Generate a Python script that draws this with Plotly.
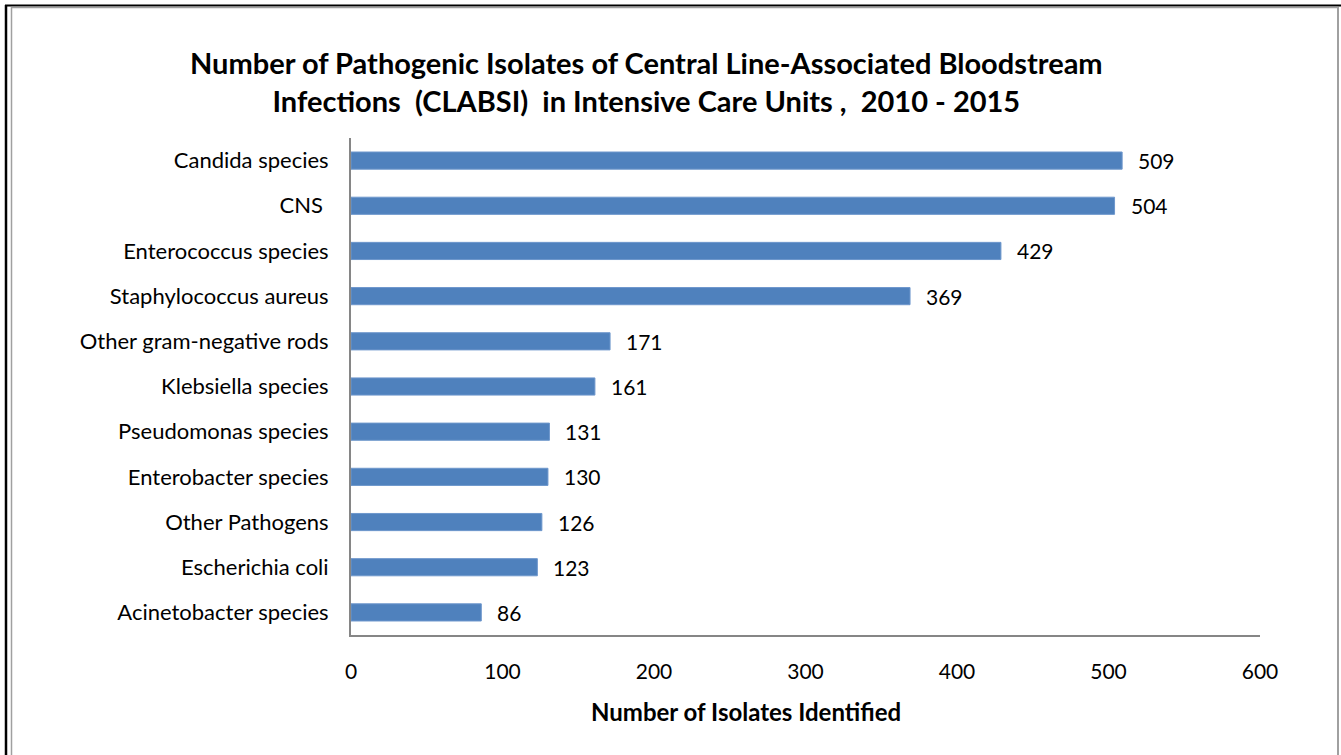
import plotly.graph_objects as go

categories = ["Candida species", "CNS ", "Enterococcus species", "Staphylococcus aureus",
              "Other gram-negative rods", "Klebsiella species", "Pseudomonas species",
              "Enterobacter species", "Other Pathogens", "Escherichia coli", "Acinetobacter species"]
values = [509, 504, 429, 369, 171, 161, 131, 130, 126, 123, 86]
x_ticks = [0, 100, 200, 300, 400, 500, 600]

W, H = 1341, 755
L, R, T, B = 351, 1260, 138, 635
FONT = "Lato"

def px(x):
    return (x - L) / (R - L)

def py(y):
    return (B - y) / (B - T)

fig = go.Figure(go.Bar(
    y=categories, x=values, orientation="h",
    marker=dict(color="#4F81BD", line=dict(color="#6E97CC", width=1)),
    width=0.38, hoverinfo="x+y",
))

annotations = []
for c, v in zip(categories, values):
    annotations.append(dict(x=v, y=c, xref="x", yref="y", text=str(v), showarrow=False,
                            xanchor="left", yanchor="middle", xshift=14,
                            font=dict(family=FONT, size=21, color="#000")))
annotations.append(dict(x=px(746), y=py(711), xref="paper", yref="paper",
                        text="<b>Number of Isolates Identified</b>", showarrow=False,
                        xanchor="center", yanchor="middle",
                        font=dict(family=FONT, size=24, color="#000")))
annotations.append(dict(x=px(646), y=py(81), xref="paper", yref="paper",
                        text="<b>Number of Pathogenic Isolates of Central Line-Associated Bloodstream<br>Infections  (CLABSI)  in Intensive Care Units ,  2010 - 2015</b>",
                        showarrow=False, xanchor="center", yanchor="middle", align="center",
                        font=dict(family=FONT, size=29, color="#000")))

shapes = [
    dict(type="line", xref="paper", yref="paper", x0=px(5), x1=px(1341), y0=py(5.5), y1=py(5.5),
         line=dict(color="#000", width=2)),
    dict(type="line", xref="paper", yref="paper", x0=px(6), x1=px(6), y0=py(5), y1=py(800),
         line=dict(color="#000", width=2.5)),
    dict(type="line", xref="paper", yref="paper", x0=px(11.5), x1=px(11.5), y0=py(7), y1=py(800),
         line=dict(color="#A0A0A0", width=1.5)),
    dict(type="line", xref="paper", yref="paper", x0=px(11.5), x1=px(1338), y0=py(7.5), y1=py(7.5),
         line=dict(color="#A0A0A0", width=1.5)),
    dict(type="line", xref="paper", yref="paper", x0=px(1338), x1=px(1338), y0=py(7), y1=py(800),
         line=dict(color="#A0A0A0", width=2)),
]

fig.update_layout(
    width=W, height=H,
    margin=dict(l=L, r=W - R, t=T, b=H - B, pad=0),
    paper_bgcolor="white", plot_bgcolor="white",
    showlegend=False,
    annotations=annotations, shapes=shapes,
    xaxis=dict(range=[0, 600], tickvals=x_ticks, ticktext=[str(t) for t in x_ticks],
               showgrid=False, zeroline=False, showline=True, linecolor="#868686", linewidth=2,
               ticks="", ticklabelstandoff=17,
               tickfont=dict(family=FONT, size=21, color="#000")),
    yaxis=dict(autorange="reversed", showgrid=False, zeroline=False,
               showline=True, linecolor="#868686", linewidth=2, ticks="",
               ticklabelstandoff=16,
               tickfont=dict(family=FONT, size=22, color="#000")),
)

fig.write_html("out.html", config={"displayModeBar": False},
               post_script="document.body.style.margin='0';document.body.style.overflow='hidden';")
